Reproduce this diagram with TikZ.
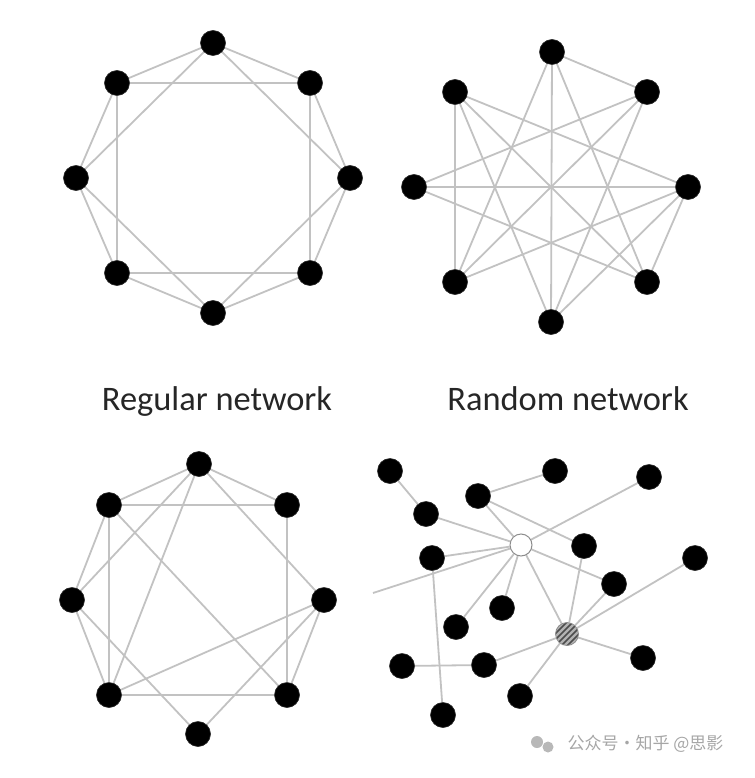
\documentclass[tikz,border=0pt]{standalone}
\usepackage{fontspec}
\setmainfont{Carlito}
\newfontfamily\cjk{Noto Sans CJK SC}
\pgfdeclarelayer{bg}
\pgfsetlayers{bg,main}
\tikzset{
  dot/.style={circle, fill=black, draw=black!85, line width=0.6pt, minimum size=25pt, inner sep=0pt},
  hubnode/.style={circle, fill=white, draw=black!45, line width=1pt, minimum size=22pt, inner sep=0pt},
  link/.style={draw=black!24, line width=1.8pt},
  caption/.style={font=\fontsize{34.4}{37}\selectfont, text=black!85, anchor=base},
}
\begin{document}
\begin{tikzpicture}[x=1pt,y=-1pt]
\useasboundingbox (0,0) rectangle (754,778);
% ---------- Regular network ----------
\node[dot] (a1) at (213,43) {};
\node[dot] (a2) at (310,83) {};
\node[dot] (a3) at (350,178) {};
\node[dot] (a4) at (310,273) {};
\node[dot] (a5) at (213,313) {};
\node[dot] (a6) at (117,273) {};
\node[dot] (a7) at (76,178) {};
\node[dot] (a8) at (117,83) {};
\begin{pgfonlayer}{bg}
\foreach \i/\j in {1/2,2/3,3/4,4/5,5/6,6/7,7/8,8/1,1/3,2/4,3/5,4/6,5/7,6/8,7/1,8/2}
  \draw[link] (a\i) -- (a\j);
\end{pgfonlayer}
% ---------- Random network ----------
\node[dot] (b1) at (552,52) {};
\node[dot] (b2) at (647,92) {};
\node[dot] (b3) at (688,187) {};
\node[dot] (b4) at (647,282) {};
\node[dot] (b5) at (551,322) {};
\node[dot] (b6) at (455,282) {};
\node[dot] (b7) at (414,187) {};
\node[dot] (b8) at (455,92) {};
\begin{pgfonlayer}{bg}
\foreach \i/\j in {1/2,1/5,1/6,1/4,8/6,8/3,8/4,8/5,2/7,2/6,2/5,7/3,7/4,3/6,3/5,3/4}
  \draw[link] (b\i) -- (b\j);
\end{pgfonlayer}
% ---------- Small-world network ----------
\node[dot] (c1) at (199,464) {};
\node[dot] (c2) at (287,505) {};
\node[dot] (c3) at (324,600) {};
\node[dot] (c4) at (287,695) {};
\node[dot] (c5) at (198,734) {};
\node[dot] (c6) at (109,695) {};
\node[dot] (c7) at (72,600) {};
\node[dot] (c8) at (109,505) {};
\begin{pgfonlayer}{bg}
\foreach \i/\j in {1/8,1/2,1/7,1/6,1/3,8/2,8/7,8/6,8/4,7/6,7/5,3/6,3/4,3/5,2/4,6/4}
  \draw[link] (c\i) -- (c\j);
\end{pgfonlayer}
% ---------- Scale-free network ----------
\node[dot] (d1) at (390,471) {};
\node[dot] (d2) at (555,471) {};
\node[dot] (d3) at (649,477) {};
\node[dot] (d4) at (478,496) {};
\node[dot] (d5) at (426,514) {};
\node[hubnode] (hub) at (521,545) {};
\node[dot] (d6) at (432,558) {};
\node[dot] (d7) at (584,546) {};
\node[dot] (d8) at (695,558) {};
\node[dot] (d9) at (614,584) {};
\node[dot] (d10) at (502,608) {};
\node[dot] (d11) at (456,627) {};
\node[circle, minimum size=23pt, inner sep=0pt] (str) at (567,634) {};
\node[dot] (d12) at (643,658) {};
\node[dot] (d13) at (402,666) {};
\node[dot] (d14) at (484,665) {};
\node[dot] (d15) at (520,696) {};
\node[dot] (d16) at (443,715) {};
\coordinate (free) at (373,593);
% striped node
\begin{scope}
  \clip (str) circle (11.5pt);
  \fill[black!30] (str) circle (11.5pt);
  \foreach \k in {-24,-18,...,24}
    \draw[black!70, line width=1.6pt] ([xshift=\k pt]str.center) ++(-20,20) -- ++(40,-40);
\end{scope}
\draw[black!45, line width=0.8pt] (str) circle (11.5pt);
\begin{pgfonlayer}{bg}
\foreach \i/\j in {d1/d5,d4/d2,d4/hub,d4/d7,d5/hub,d6/hub,d6/d16,hub/d3,hub/free,hub/d9,hub/d11,hub/d10,hub/str,d7/str,d9/str,d8/str,d12/str,d14/str,d15/str,d13/d14}
  \draw[link] (\i) -- (\j);
\end{pgfonlayer}
% ---------- captions ----------
\node[caption] (t1) at (217,410) {Regular network};
\node[caption] (t2) at (568,410) {Random network};
% ---------- watermark ----------
\fill[black!28] (537,742) circle (6pt);
\fill[black!28] (548,747) circle (5.5pt);
\node[font=\cjk\fontsize{17}{17}\selectfont, text=black!35, anchor=west] (wm) at (564,744) {公众号·知乎 @思影};
\end{tikzpicture}
\end{document}
